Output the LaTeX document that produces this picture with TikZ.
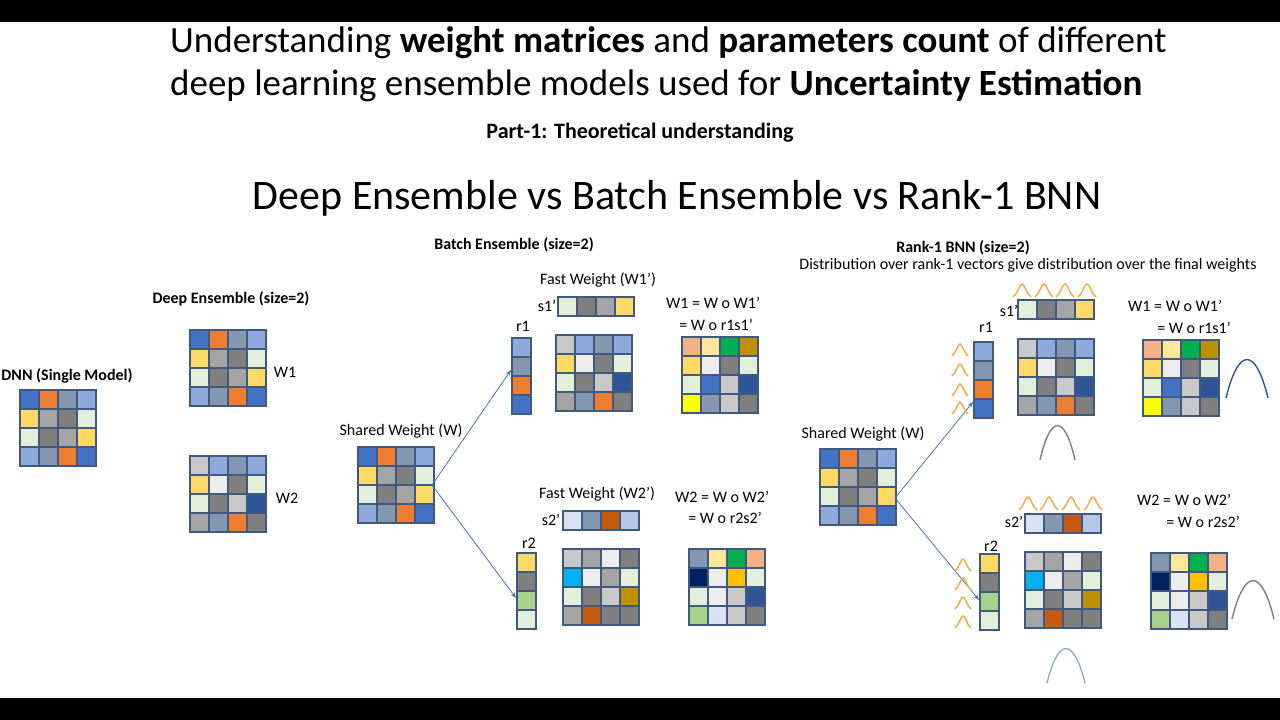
\documentclass[tikz,border=0pt]{standalone}
\usepackage{fontspec}
\setmainfont{Carlito}
\usetikzlibrary{arrows.meta}
\definecolor{B}{HTML}{4472C4}\definecolor{O}{HTML}{ED7D31}\definecolor{S}{HTML}{8497B0}
\definecolor{L}{HTML}{8EA9DB}\definecolor{Y}{HTML}{FFD966}\definecolor{G}{HTML}{A5A5A5}
\definecolor{D}{HTML}{7F7F7F}\definecolor{E}{HTML}{E2EFDA}\definecolor{K}{HTML}{C9C9C9}
\definecolor{W}{HTML}{EDEDED}\definecolor{N}{HTML}{2F5597}\definecolor{P}{HTML}{F4B183}
\definecolor{LY}{HTML}{FFE699}\definecolor{GR}{HTML}{00B050}\definecolor{GO}{HTML}{BF9000}
\definecolor{YY}{HTML}{FFFF00}\definecolor{C}{HTML}{00B0F0}\definecolor{DO}{HTML}{C55A11}
\definecolor{ON}{HTML}{002060}\definecolor{AM}{HTML}{FFC000}\definecolor{LG}{HTML}{A9D18E}
\definecolor{PB}{HTML}{DAE3F3}\definecolor{LB}{HTML}{B4C7E7}\definecolor{frame}{HTML}{41597F}
\definecolor{bell}{HTML}{F4A93C}
\newcommand\wmat[4]{% x y ncols colors
  \foreach \c [count=\i from 0] in {#4} {
    \pgfmathtruncatemacro\cc{mod(\i,#3)}\pgfmathtruncatemacro\rr{int(\i/#3)}
    \fill[\c] ({#1+\cc*19},{#2+\rr*19}) rectangle ++(19,19);
    \draw[frame,line width=1.6] ({#1+\cc*19},{#2+\rr*19}) rectangle ++(19,19);
  }}
\newcommand\bellc[5]{\draw[#5,line width=1.4] (#1,#2) .. controls ({#1+0.3*#3},{#2-1.35*#4}) and ({#1+0.7*#3},{#2-1.35*#4}) .. ({#1+#3},#2);}
\newcommand\bells[5]{\draw[#5,line width=1.4] (#1,#2) .. controls ({#1+0.25*#3},{#2-0.2*#4}) and ({#1+0.35*#3},{#2-#4}) .. ({#1+0.5*#3},{#2-#4}) .. controls ({#1+0.65*#3},{#2-#4}) and ({#1+0.75*#3},{#2-0.2*#4}) .. ({#1+#3},#2);}
\begin{document}
\begin{tikzpicture}[x=1pt,y=-1pt,
  lab/.style={font=\fontsize{16}{18}\selectfont,inner sep=0},
  hd/.style={font=\bfseries\fontsize{16}{18}\selectfont,inner sep=0},
  arr/.style={B,line width=0.8,-{Stealth[length=6pt]}}]
\useasboundingbox (0,0) rectangle (1280,720);
\fill[white] (0,0) rectangle (1280,720);
\fill[black] (0,0) rectangle (1280,22);
\fill[black] (0,698) rectangle (1280,720);
\node[inner sep=0,font=\fontsize{37}{43}\selectfont,align=left,anchor=north west] (t) at (170,26) {Understanding \textbf{weight matrices} and \textbf{parameters count} of different\\deep learning ensemble models used for \textbf{Uncertainty Estimation}};
\node[inner sep=0,font=\bfseries\fontsize{22}{26}\selectfont] (pt) at (640,133) {Part-1: Theoretical understanding};
\node[inner sep=0,font=\fontsize{42}{48}\selectfont] (vs) at (677,198) {Deep Ensemble vs Batch Ensemble vs Rank-1 BNN};
% left
\node[hd] (dnn) at (67,376) {DNN (Single Model)};
\wmat{20}{390}{4}{B,O,S,L,Y,G,D,E,E,D,G,Y,L,S,O,B}
\node[hd] (de) at (231,299) {Deep Ensemble (size=2)};
\wmat{190}{330}{4}{B,O,S,L,Y,G,D,E,E,D,G,Y,L,S,O,B}
\wmat{190}{456}{4}{K,L,S,L,Y,W,D,E,E,D,K,N,G,S,O,D}
\node[lab] (w1) at (285,372) {W1};
\node[lab] (w2) at (287,498) {W2};
% batch ensemble
\node[hd] (be) at (514,245) {Batch Ensemble (size=2)};
\node[lab] (sw) at (401,431) {Shared Weight (W)};
\wmat{358}{447}{4}{B,O,S,L,Y,G,D,E,E,D,G,Y,L,S,O,B}
\coordinate (bs) at (432,485);
\node[lab] (fw1) at (598,280) {Fast Weight (W1’)};
\node[lab] (br1) at (523,326) {r1};
\node[lab] (bs1) at (547,306) {s1'};
\wmat{558}{297}{4}{E,D,G,Y}
\wmat{512}{338}{1}{L,S,O,B}
\coordinate (br1p) at (511,370);
\wmat{556}{335}{4}{K,L,S,L,Y,W,D,E,E,D,K,N,G,S,O,D}
\wmat{682}{337}{4}{P,LY,GR,GO,Y,W,D,E,E,B,K,N,YY,S,K,D}
\node[lab,anchor=west] (be1a) at (666,303) {W1 = W o W1’};
\node[lab,anchor=east] (be1b) at (753,325) {= W o r1s1’};
\node[lab] (fw2) at (597,494) {Fast Weight (W2’)};
\node[lab,anchor=west] (be2a) at (675,497) {W2 = W o W2’};
\node[lab,anchor=east] (be2b) at (762,518) {= W o r2s2’};
\node[lab] (bs2) at (551,520) {s2'};
\node[lab] (br2) at (529,543) {r2};
\wmat{563}{511}{4}{PB,S,DO,LB}
\wmat{517}{553}{1}{Y,D,LG,E}
\coordinate (br2p) at (516,598);
\wmat{563}{549}{4}{K,G,W,D,C,W,G,E,E,D,K,GO,G,DO,D,D}
\wmat{689}{549}{4}{S,LY,GR,P,ON,W,AM,E,E,W,K,N,LG,PB,K,D}
\draw[arr] (bs) -- (br1p);
\draw[arr] (bs) -- (br2p);
% rank-1
\node[hd] (rk) at (963,248) {Rank-1 BNN (size=2)};
\node[lab] (rks) at (1028,265) {Distribution over rank-1 vectors give distribution over the final weights};
\node[lab] (sw2) at (863,434) {Shared Weight (W)};
\wmat{820}{449}{4}{B,O,S,L,Y,G,D,E,E,D,G,Y,L,S,O,B}
\coordinate (rs) at (895,498);
\node[lab] (rr1) at (986,327) {r1};
\node[lab] (rs1) at (1009,311) {s1'};
\wmat{1018}{300}{4}{E,D,G,Y}
\wmat{974}{342}{1}{L,S,O,B}
\coordinate (rr1p) at (973,402);
\wmat{1018}{339}{4}{K,L,S,L,Y,W,D,E,E,D,K,N,G,S,O,D}
\wmat{1143}{340}{4}{P,LY,GR,GO,Y,W,D,E,E,B,K,N,YY,S,K,D}
\node[lab,anchor=west] (re1a) at (1128,306) {W1 = W o W1’};
\node[lab,anchor=east] (re1b) at (1231,328) {= W o r1s1’};
\node[lab] (rs2) at (1014,522) {s2'};
\node[lab] (rr2) at (991,546) {r2};
\wmat{1025}{514}{4}{PB,S,DO,LB}
\wmat{980}{554}{1}{Y,D,LG,E}
\coordinate (rr2p) at (979,600);
\wmat{1025}{552}{4}{K,G,W,D,C,W,G,E,E,D,K,GO,G,DO,D,D}
\wmat{1151}{553}{4}{S,LY,GR,P,ON,W,AM,E,E,W,K,N,LG,PB,K,D}
\node[lab,anchor=west] (re2a) at (1137,500) {W2 = W o W2’};
\node[lab,anchor=east] (re2b) at (1240,522) {= W o r2s2’};
\draw[arr] (rs) -- (rr1p);
\draw[arr] (rs) -- (rr2p);
% bells
\foreach \x in {1013,1035,1056,1078} {\bells{\x}{297}{18}{13}{bell}}
\foreach \x in {1019,1040,1062,1084} {\bells{\x}{510}{18}{13}{bell}}
\foreach \y in {356,376,396,414} {\bells{952}{\y}{16}{12}{bell}}
\foreach \y in {571,590,609,628} {\bells{955}{\y}{16}{12}{bell}}
\bellc{1040}{460}{35}{34}{gray}
\bellc{1226}{398}{42}{38}{N}
\bellc{1232}{619}{42}{38}{D}
\bellc{1047}{683}{38}{34}{L}
\end{tikzpicture}
\end{document}
